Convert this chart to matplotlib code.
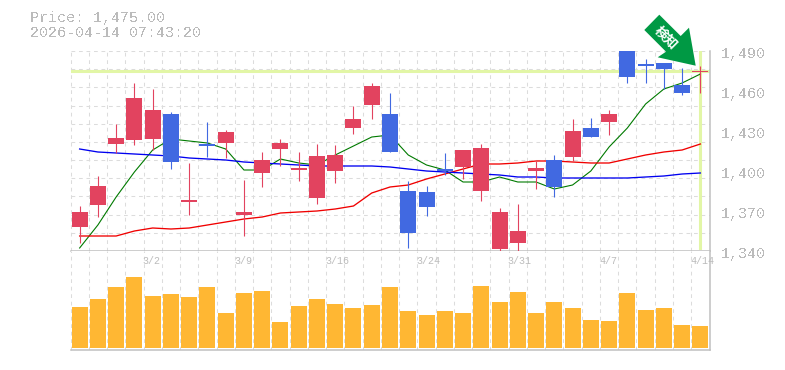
import matplotlib
matplotlib.use("Agg")
import matplotlib.pyplot as plt
from matplotlib.patches import Polygon
from matplotlib.ticker import FixedLocator, NullFormatter
from matplotlib.transforms import IdentityTransform
import numpy as np

plt.rcParams['font.family'] = ['Liberation Mono', 'Noto Sans CJK JP', 'DejaVu Sans']
plt.rcParams['text.antialiased'] = False

opens = [1358, 1374.5, 1420.25, 1423.25, 1424, 1442.75, 1376.75, 1420.25, 1421, 1367, 1398.5, 1416.5,
         1400.75, 1379.75, 1400, 1432.25, 1449.5, 1442.75, 1385, 1384.25, 1401.5, 1403, 1385, 1341.5,
         1346, 1400, 1408.25, 1410.5, 1432.25, 1436.75, 1490, 1480.25, 1481, 1464.5, 1474]
closes = [1369.25, 1388.75, 1424.75, 1454.75, 1445.75, 1406.75, 1378.25, 1418.75, 1429.25, 1369.25, 1408.25, 1421,
          1402.25, 1411.25, 1412, 1439, 1463.75, 1414.25, 1353.5, 1373, 1400, 1415.75, 1417.25, 1369.25,
          1355, 1402.25, 1388, 1430, 1425.5, 1442.75, 1470.5, 1478.75, 1476.5, 1458.5, 1475]
highs = [1373.75, 1396.25, 1435.25, 1466, 1461.5, 1444.25, 1406, 1436.75, 1430.75, 1393.25, 1414.25, 1424,
         1414.25, 1420.25, 1419.5, 1448.75, 1466, 1458.5, 1392.5, 1388.75, 1413.5, 1415.75, 1420.25, 1372.25,
         1375.25, 1407.5, 1412, 1439, 1439.75, 1445.75, 1490, 1484, 1481, 1477.25, 1478.75]
lows = [1345.75, 1365.5, 1413.5, 1419.5, 1415.75, 1401.5, 1367, 1410.5, 1409.75, 1351.25, 1388, 1403.75,
        1392.5, 1375.25, 1391, 1427.75, 1439, 1414.25, 1342.25, 1366.25, 1397, 1394, 1377.5, 1340,
        1340, 1386.5, 1380.5, 1407.5, 1425.5, 1427, 1466, 1466, 1461.5, 1457, 1458.5]
ma_short = [1342.25, 1359.5, 1380.5, 1399.25, 1415.75, 1424, 1422.5, 1421, 1416.5, 1400.75, 1400.75, 1409,
            1406, 1404.5, 1412, 1418.75, 1425.5, 1427, 1412, 1404.5, 1400.75, 1391.75, 1391.75, 1395.5,
            1391.75, 1391.75, 1386.5, 1389.5, 1400, 1418, 1432.25, 1450.25, 1461.5, 1466, 1472.75]
ma_mid = [1351.25, 1351.25, 1351.25, 1355, 1357.25, 1356.5, 1357.25, 1359.5, 1361.75, 1364, 1365.5, 1368.5,
          1369.25, 1370, 1371.5, 1373.75, 1383.5, 1388, 1389.5, 1394, 1397.75, 1401.5, 1405.25, 1405.25,
          1406, 1407.5, 1407.5, 1406.75, 1406, 1406, 1409, 1412, 1414.25, 1415.75, 1420.25]
ma_long = [1416.5, 1414.25, 1413.5, 1412.75, 1412, 1411.25, 1409.75, 1409, 1408.25, 1406.75, 1406, 1405.25,
           1404.5, 1403.75, 1403.75, 1403.75, 1403.75, 1403, 1401.5, 1400, 1399.25, 1398.5, 1397.75, 1397,
           1395.5, 1395.5, 1394.75, 1394.75, 1394.75, 1394.75, 1394.75, 1395.5, 1396.25, 1397.75, 1398.5]
volumes = [41, 49, 61, 71, 52, 54, 51, 61, 35, 55, 57, 26, 42, 49, 44, 40, 43, 61,
           37, 33, 37, 35, 62, 46, 56, 35, 46, 40, 28, 27, 55, 38, 40, 23, 22]
date_labels = ['3/2', '3/9', '3/16', '3/24', '3/31', '4/7', '4/14']
date_index = [4, 9, 14, 19, 24, 29, 34]
price_ticks = [1490, 1460, 1430, 1400, 1370, 1340]
last_price = 1475.00
title_lines = ['Price: 1,475.00', '2026-04-14 07:43:20']
badge_text = '検知'

W, H = 785, 370
fig = plt.figure(figsize=(W / 100, H / 100), dpi=100, facecolor='white')


def box(l, t, r, b):
    return [l / W, 1 - b / H, (r - l) / W, (b - t) / H]


ax = fig.add_axes(box(70.5, 51, 709.5, 251))
axv = fig.add_axes(box(70.5, 251, 709.5, 350))

RED, BLUE, GRID, AXIS, LIME = '#e2435f', '#4169e1', '#dcdcdc', '#c0c0c0', '#e2f6a6'
DASH = (0, (3.6, 3.6))
GLW = 0.75
x = np.arange(len(opens))

for a in (ax, axv):
    a.set_xlim(-0.5, len(opens) - 0.5)
    a.xaxis.set_major_locator(FixedLocator(x[:-1] + 0.5))
    a.xaxis.set_major_formatter(NullFormatter())
    a.grid(True, axis='x', color=GRID, linewidth=GLW, linestyle=DASH, zorder=0)
    a.tick_params(length=0, labelleft=False, labelbottom=False)
    a.set_axisbelow(True)
    for s in a.spines.values():
        s.set_visible(False)
    for name in ('right', 'bottom'):
        a.spines[name].set_visible(True)
        a.spines[name].set_color(AXIS)
        a.spines[name].set_linewidth(1.1)
    a.axvline(-0.5, color=GRID, linewidth=GLW, linestyle=DASH, zorder=0, clip_on=False)

ax.set_ylim(1340, 1490)
ax.set_yticks(np.linspace(1340, 1490, 12))
ax.grid(True, axis='y', color=GRID, linewidth=GLW, linestyle=DASH, zorder=0)

ax.axhline(last_price, color=LIME, linewidth=2.2, zorder=1)
ax.axvline(x[-1], ymin=0.015, color=LIME, linewidth=2.2, zorder=1)

ax.plot(x, ma_short, color='#007a00', linewidth=0.8, zorder=2)
ax.plot(x, ma_mid, color='#f00000', linewidth=0.95, zorder=2)
ax.plot(x, ma_long, color='#0000f0', linewidth=0.95, zorder=2)

colors = [RED if c >= o else BLUE for o, c in zip(opens, closes)]
ax.vlines(x, lows, highs, colors=colors, linewidth=0.8, zorder=3)
bw = 16 / 18.26
ax.bar(x, np.abs(np.array(closes) - np.array(opens)), bottom=np.minimum(opens, closes),
       width=bw, color=colors, linewidth=0, zorder=3)

axv.set_ylim(-2, 97)
axv.bar(x, volumes, width=bw, color='#ffb733', linewidth=0, zorder=3)

for i, lab in zip(date_index, date_labels):
    axv.annotate(lab, (i, 1), xycoords=('data', 'axes fraction'), xytext=(-10, -5),
                 textcoords='offset pixels', ha='left', va='top', fontsize=7.2,
                 color='#bcbcbc', annotation_clip=False, zorder=4, antialiased=True)

for v in price_ticks:
    ax.annotate(f'{v:,}', (1, v), xycoords=('axes fraction', 'data'), xytext=(11, -3),
                textcoords='offset pixels', ha='left', va='center', fontsize=10.8,
                color='#bbbbbb', annotation_clip=False)

fig.text(30 / W, 1 - 18 / H, title_lines[0], fontsize=10.8, color='#bbbbbb', ha='left', va='center')
fig.text(30 / W, 1 - 33 / H, title_lines[1], fontsize=10.8, color='#bbbbbb', ha='left', va='center')

arrow_px = [(695.7, 65.7), (689, 27.7), (680.7, 36), (659.3, 14.7), (644.3, 30), (666, 51.7), (657.7, 57.3)]
fig.add_artist(Polygon([(px, H - py) for px, py in arrow_px], closed=True, facecolor='#009944',
                       edgecolor='none', transform=IdentityTransform(), zorder=5))
fig.text(665.5 / W, 1 - 38 / H, badge_text, rotation=-45, rotation_mode='anchor', ha='center', va='center',
         fontsize=9.6, color='white', fontweight='bold', zorder=6, antialiased=True)

fig.savefig('out.png', dpi=100, facecolor='white')
